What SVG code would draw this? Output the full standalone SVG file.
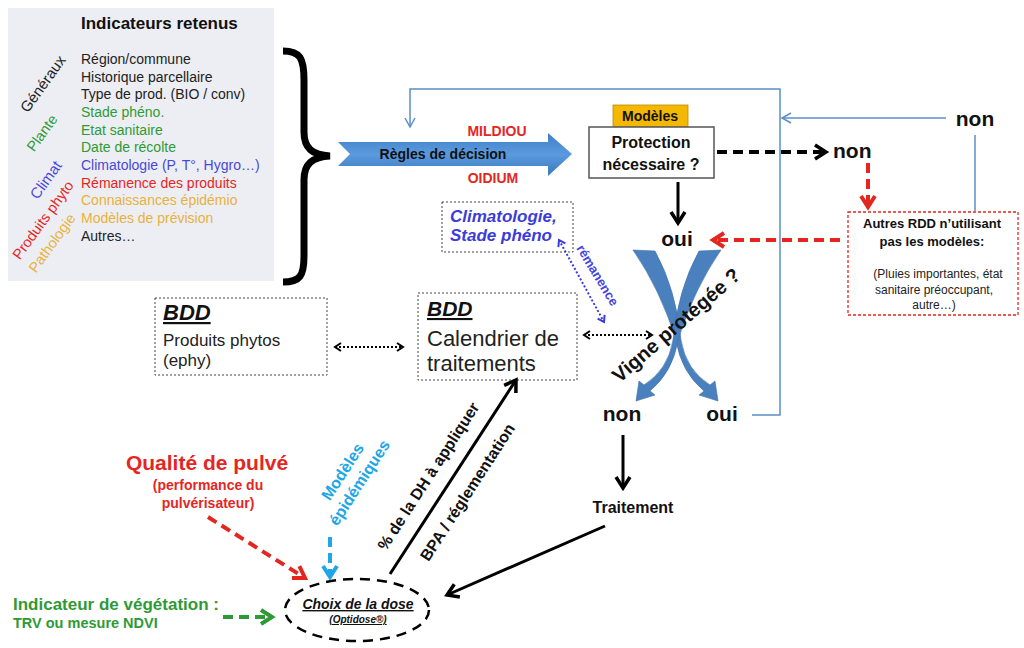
<svg xmlns="http://www.w3.org/2000/svg" width="1024" height="648" viewBox="0 0 1024 648">
<defs>
<style>
text{font-family:"Liberation Sans",Arial,sans-serif;}
.b{font-weight:bold}
.bi{font-weight:bold;font-style:italic}
.li{font-size:14px}
.k{fill:#222}
.g{fill:#2f9a35}
.bl{fill:#4848d8}
.r{fill:#e5261f}
.o{fill:#e8b23a}
.mid{text-anchor:middle}
.dbox{fill:#fff;stroke:#444;stroke-width:1;stroke-dasharray:2 2}
.thin{fill:none;stroke:#5b8fc8;stroke-width:1.5}
.solid{fill:none;stroke:#000;stroke-width:3}
.dash{fill:none;stroke-width:4;stroke-dasharray:10 6}
.dot{fill:none;stroke-width:2;stroke-dasharray:2 2}
.cross{fill:#4a80bd;stroke:#3f72ad;stroke-width:0.6}
</style>
<linearGradient id="ga" x1="0" y1="0" x2="0" y2="1">
<stop offset="0" stop-color="#3f7fc6"/><stop offset="0.5" stop-color="#5b9ade"/><stop offset="1" stop-color="#3a78bd"/>
</linearGradient>
<marker id="mk" markerUnits="userSpaceOnUse" markerWidth="20" markerHeight="20" viewBox="0 0 20 20" refX="15" refY="10" orient="auto">
<path d="M4,3 L15,10 L4,17" fill="none" stroke="#000" stroke-width="3.5"/>
</marker>
<marker id="mr" markerUnits="userSpaceOnUse" markerWidth="20" markerHeight="20" viewBox="0 0 20 20" refX="15" refY="10" orient="auto">
<path d="M4,3 L15,10 L4,17" fill="none" stroke="#e5261f" stroke-width="4"/>
</marker>
<marker id="mg" markerUnits="userSpaceOnUse" markerWidth="20" markerHeight="20" viewBox="0 0 20 20" refX="15" refY="10" orient="auto">
<path d="M4,3 L15,10 L4,17" fill="none" stroke="#2f9a35" stroke-width="4"/>
</marker>
<marker id="mc" markerUnits="userSpaceOnUse" markerWidth="20" markerHeight="20" viewBox="0 0 20 20" refX="15" refY="10" orient="auto">
<path d="M4,3 L15,10 L4,17" fill="none" stroke="#1ea6e6" stroke-width="4"/>
</marker>
<marker id="mt" markerUnits="userSpaceOnUse" markerWidth="14" markerHeight="14" viewBox="0 0 14 14" refX="12" refY="7" orient="auto">
<path d="M3,2 L12,7 L3,12" fill="none" stroke="#5b8fc8" stroke-width="1.5"/>
</marker>
<marker id="md" markerUnits="userSpaceOnUse" markerWidth="12" markerHeight="12" viewBox="0 0 12 12" refX="9" refY="6" orient="auto-start-reverse">
<path d="M3,2 L9,6 L3,10" fill="none" stroke="#000" stroke-width="2"/>
</marker>
<marker id="mdb" markerUnits="userSpaceOnUse" markerWidth="12" markerHeight="12" viewBox="0 0 12 12" refX="9" refY="6" orient="auto-start-reverse">
<path d="M3,2 L9,6 L3,10" fill="none" stroke="#3b3bd8" stroke-width="2"/>
</marker>
</defs>
<rect width="1024" height="648" fill="#fff"/>

<g id="indicateurs">
<rect x="8" y="8" width="266" height="273" fill="#eceef4"/>
<text x="81" y="29" class="b" font-size="17" fill="#111">Indicateurs retenus</text>
<text class="li k" x="81" y="64">Région/commune</text>
<text class="li k" x="81" y="81.7">Historique parcellaire</text>
<text class="li k" x="81" y="99.3">Type de prod. (BIO / conv)</text>
<text class="li g" x="81" y="117">Stade phéno.</text>
<text class="li g" x="81" y="134.7">Etat sanitaire</text>
<text class="li g" x="81" y="152.4">Date de récolte</text>
<text class="li bl" x="81" y="170">Climatologie (P, T°, Hygro…)</text>
<text class="li r" x="81" y="187.7">Rémanence des produits</text>
<text class="li o" x="81" y="205.4">Connaissances épidémio</text>
<text class="li o" x="81" y="223">Modèles de prévision</text>
<text class="li k" x="81" y="240.7">Autres…</text>
<text class="mid k" font-size="15" transform="translate(43,84) rotate(-54)" y="5">Généraux</text>
<text class="mid g" font-size="14.5" transform="translate(42,133) rotate(-54)" y="5">Plante</text>
<text class="mid bl" font-size="15" transform="translate(46,180) rotate(-54)" y="5">Climat</text>
<text class="mid r" font-size="14.5" transform="translate(43,220) rotate(-54)" y="5">Produits phyto</text>
<text class="mid o" font-size="14.5" transform="translate(52,243) rotate(-54)" y="5">Pathologie</text>
</g>

<g id="accolade">
<path d="M283 51 C300 51 304 58 304 80 L304 132 C304 148 312 155 330 156 C312 157 304 164 304 180 L304 256 C304 276 300 282 283 282" fill="none" stroke="#000" stroke-width="7"/>
</g>

<g id="regles">
<polygon points="338,142 548,142 548,133 572,154 548,176 548,166 338,166 350,154" fill="url(#ga)"/>
<text x="443" y="159" class="b mid" font-size="14" fill="#111">Règles de décision</text>
<text x="497" y="136" class="b mid r" font-size="14">MILDIOU</text>
<text x="493" y="183" class="b mid r" font-size="14">OIDIUM</text>
</g>

<g id="protection">
<rect x="613" y="105" width="75" height="22" fill="#f5b800" stroke="#c08a00" stroke-width="0.8"/>
<text x="650" y="121" class="b mid" font-size="14" fill="#111">Modèles</text>
<rect x="589" y="127" width="125" height="51" fill="#fff" stroke="#555" stroke-width="1.5"/>
<text x="651" y="148" class="b mid" font-size="16" fill="#111">Protection</text>
<text x="651" y="170" class="b mid" font-size="16" fill="#111">nécessaire ?</text>
</g>

<g id="non-haut">
<text x="975" y="126" class="b mid" font-size="21" fill="#111">non</text>
</g>
<g id="non-protection">
<text x="833" y="158" class="b" font-size="21" fill="#111">non</text>
</g>

<g id="autres-rdd">
<rect x="848" y="212" width="170" height="103" fill="#fff" stroke="#e5261f" stroke-width="1.3" stroke-dasharray="3 2"/>
<text x="932" y="228" class="b mid" font-size="13" fill="#111">Autres RDD n’utilisant</text>
<text x="932" y="246" class="b mid" font-size="13" fill="#111">pas les modèles:</text>
<text x="938" y="278" class="mid" font-size="12" fill="#222">(Pluies importantes, état</text>
<text x="934" y="294" class="mid" font-size="12" fill="#222">sanitaire préoccupant,</text>
<text x="934" y="309" class="mid" font-size="12" fill="#222">autre…)</text>
</g>

<g id="oui-haut">
<text x="677" y="246" class="b mid" font-size="21" fill="#111">oui</text>
</g>

<g id="vigne-protegee">
<path class="cross" d="M633 250 L655 251 Q676 289 681 340 Q686 370 710 385 L715 381 L718 401 L699 395 L704 391 Q681 372 676 340 Q660 289 633 250 Z"/>
<path class="cross" d="M721 250 L699 251 Q678 289 673 340 Q668 370 644 385 L639 381 L636 401 L655 395 L650 391 Q673 372 678 340 Q694 289 721 250 Z"/>
<text class="b mid" font-size="20" fill="#111" transform="translate(676,325) rotate(-41)" y="7">Vigne protégée ?</text>
<text x="622" y="421" class="b mid" font-size="21" fill="#111">non</text>
<text x="722" y="421" class="b mid" font-size="21" fill="#111">oui</text>
</g>

<g id="climatologie">
<rect class="dbox" x="442" y="202" width="131" height="50"/>
<text x="450" y="222" class="bi" font-size="17" fill="#3c3cd8">Climatologie,</text>
<text x="450" y="241" class="bi" font-size="17" fill="#3c3cd8">Stade phéno</text>
</g>

<g id="bdd-produits">
<rect class="dbox" x="155" y="298" width="172" height="77"/>
<text x="163" y="320" class="bi" font-size="22" text-decoration="underline" fill="#111">BDD</text>
<text x="163" y="346" font-size="17" fill="#222">Produits phytos</text>
<text x="163" y="366" font-size="17" fill="#222">(ephy)</text>
</g>

<g id="bdd-calendrier">
<rect class="dbox" x="418" y="293" width="159" height="87"/>
<text x="427" y="316" class="bi" font-size="21" text-decoration="underline" fill="#111">BDD</text>
<text x="427" y="346" font-size="22" fill="#222">Calendrier de</text>
<text x="427" y="371" font-size="22" fill="#222">traitements</text>
</g>

<g id="traitement">
<text x="633" y="513" class="b mid" font-size="16" fill="#111">Traitement</text>
</g>

<g id="qualite-pulve">
<text x="207" y="470" class="b mid r" font-size="21">Qualité de pulvé</text>
<text x="208" y="490" class="b mid r" font-size="14">(performance du</text>
<text x="208" y="508" class="b mid r" font-size="14">pulvérisateur)</text>
</g>

<g id="modeles-epidemiques">
<g transform="translate(343,472) rotate(-57)">
<text class="b mid" font-size="16" fill="#1ea6e6" y="5">Modèles</text>
<text class="b mid" font-size="16" fill="#1ea6e6" y="25">épidémiques</text>
</g>
</g>

<g id="indicateur-vegetation">
<text x="13" y="610" class="b g" font-size="17">Indicateur de végétation :</text>
<text x="13" y="628" class="b g" font-size="14.5">TRV ou mesure NDVI</text>
</g>

<g id="choix-dose">
<ellipse cx="357" cy="610" rx="72" ry="31" fill="none" stroke="#000" stroke-width="2.5" stroke-dasharray="10 7"/>
<text x="358" y="609" class="bi mid" font-size="14" text-decoration="underline" fill="#111">Choix de la dose</text>
<text x="358" y="623" class="bi mid" font-size="10" text-decoration="underline" fill="#111">(Optidose®)</text>
</g>

<g id="connecteurs">
<path class="thin" d="M752 415 H780 V89 H410 V127" marker-end="url(#mt)"/>
<path class="thin" d="M946 118 H782" marker-end="url(#mt)"/>
<path class="thin" d="M975 135 V211"/>
<path class="dash" stroke="#000" d="M717 152 H826" marker-end="url(#mk)"/>
<path class="dash" stroke="#e5261f" d="M868 163 V207" marker-end="url(#mr)"/>
<path class="dash" stroke="#e5261f" d="M840 240 H713" marker-end="url(#mr)"/>
<path class="solid" d="M678 182 V223" marker-end="url(#mk)"/>
<path class="solid" d="M623 435 V488" marker-end="url(#mk)"/>
<path class="solid" d="M605 526 L447 595" marker-end="url(#mk)"/>
<path class="solid" d="M390 574 L516 380" marker-end="url(#mk)"/>
<path class="dot" stroke="#000" d="M335 347 H403" marker-start="url(#md)" marker-end="url(#md)"/>
<path class="dot" stroke="#000" d="M584 335 H652" marker-start="url(#md)" marker-end="url(#md)"/>
<path class="dot" stroke="#3b3bd8" d="M559 240 L604 322" marker-start="url(#mdb)" marker-end="url(#mdb)"/>
<path class="dash" stroke="#e5261f" d="M208 517 L305 578" marker-end="url(#mr)"/>
<path class="dash" stroke="#1ea6e6" d="M330 537 V577" marker-end="url(#mc)"/>
<path class="dash" stroke="#2f9a35" d="M223 617 H272" marker-end="url(#mg)"/>
<text class="b mid" font-size="13" fill="#4545e0" transform="translate(598,275) rotate(59)" y="5">rémanence</text>
<text class="b mid" font-size="16" fill="#111" transform="translate(428,476) rotate(-57)" y="6">% de la DH à appliquer</text>
<text class="b mid" font-size="16" fill="#111" transform="translate(467,492) rotate(-57)" y="6">BPA / réglementation</text>
</g>
</svg>
